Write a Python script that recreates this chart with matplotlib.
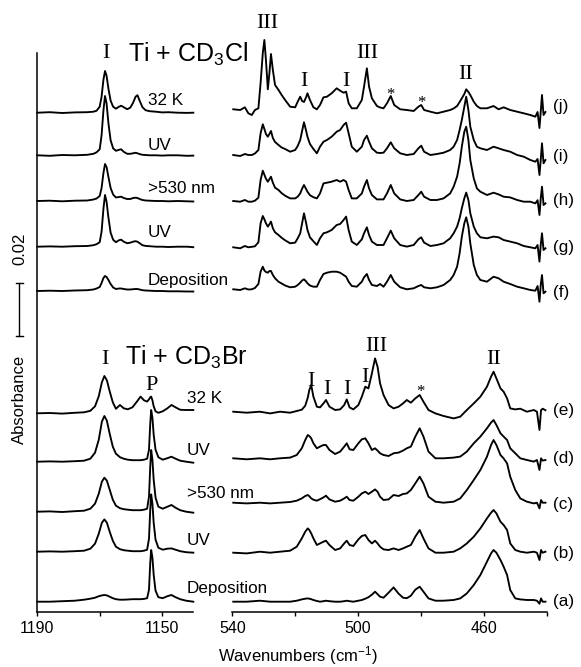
import matplotlib
matplotlib.use('Agg')
import matplotlib.pyplot as plt
import matplotlib.transforms as mtransforms

plt.rcParams['font.family'] = ['Liberation Sans', 'DejaVu Sans']
plt.rcParams['mathtext.fontset'] = 'custom'
plt.rcParams['mathtext.rm'] = 'Liberation Sans'
plt.rcParams['mathtext.it'] = 'Liberation Sans:italic'
plt.rcParams['mathtext.bf'] = 'Liberation Sans:bold'

# ---------------- DATA ----------------
# Absorbance values are in display units where 53.3 units = 0.02 absorbance
SCALE_BAR_ABS = 0.02
UNITS_PER_SCALE_BAR = 53.3

left_ticks = [1190, 1150]
left_minor = [1170]
right_ticks = [540, 500, 460]
right_minor = [520, 480, 440]

# Left panel, Ti + CD3Cl (1190-1140 cm-1)
lt_wn = [1190, 1186, 1182, 1178, 1174, 1172, 1171, 1170, 1169.4, 1168.8, 1168.3, 1167.8,
         1167.2, 1166.5, 1165.7, 1164.8, 1163.8, 1163.1, 1162.3, 1161.2, 1160.2, 1159.3,
         1158.5, 1157.9, 1157.2, 1156.3, 1155.3, 1154, 1152, 1150, 1148, 1145, 1142, 1140]
lt_32K = [0, 0.5, -0.3, 0.3, 0.5, 1, 2, 6, 16, 33, 41.7, 37, 24, 12, 6, 4, 6, 7, 5.5, 3.5,
          5, 10, 16, 17.5, 12, 5.5, 2.5, 1.5, 1, 0.3, 0.5, 0, -0.2, 0]
lt_UV2 = [0, -0.5, 0.3, 0, 0.5, 1.5, 3, 6, 20, 45, 59.3, 52, 32, 15, 7, 4.5, 5.5, 6, 3.5, 1.5,
          1.5, 2, 2.5, 2, 1.2, 0.5, 0.3, 0, 0, -0.3, 0, 0, -0.5, -0.3]
lt_530 = [0, 0.3, -0.3, 0.3, 0.5, 1.5, 2.5, 5, 13, 28, 37, 34, 24, 13, 6.5, 3.5, 4, 4.3, 3, 2,
          2, 3, 3.3, 3, 2, 1, 0.5, 0.3, 0, 0, -0.3, 0, -0.3, -0.5]
lt_UV1 = [0, 0.3, 0, 0.5, 0.7, 1.5, 2.5, 4.5, 15, 38, 51.7, 45, 29, 14, 7, 4.5, 6.5, 7, 5, 3.5,
          4, 5, 5.5, 5, 3.5, 1.5, 0.8, 0.5, 0, 0, -0.3, 0, 0, -0.5]
lt_dep = [0, 0.3, 0, 0.5, 0.8, 1.5, 2.5, 4, 8, 13, 15, 14, 11, 7, 3.5, 2, 2.5, 2.5, 2, 1.5,
          1.5, 1.8, 2, 2, 1.5, 0.8, 0.5, 0.3, 0, 0, -0.3, -0.3, -0.5, -0.5]

# Left panel, Ti + CD3Br
lb_wn = [1190, 1186, 1182, 1178, 1175, 1173, 1171.5, 1170.3, 1169.3, 1168.5, 1167.7, 1166.8,
         1165.8, 1164.8, 1163.5, 1162.3, 1161, 1159.5, 1158, 1156.9, 1155.8, 1154.8, 1154.2,
         1153.8, 1153.5, 1153.1, 1152.7, 1152.1, 1151.2, 1149.8, 1148.3, 1147, 1145.7, 1144.2,
         1142.3, 1140]
lb_32K = [0, 0.3, -0.3, 0.5, 1, 2.5, 7, 17, 31, 37.3, 33, 22, 11, 4.5, 8.3, 5, 4, 6, 12, 16.7,
          13, 11.7, 14, 16, 16.7, 13, 7, 2, 0.5, 2, 5, 8.3, 6, 3.5, 3.3, 3.3]
lb_UV2 = [0, 0.3, 0, 0.5, 1, 3, 9, 22, 40, 45.7, 41, 28, 15, 8, 4.5, 3, 2, 1.5, 1.5, 1.5, 2, 3,
          12, 38, 51.7, 44, 27, 12, 4.5, 2, 3.5, 5, 3, 1, 0, -1]
lb_530 = [0, 0.3, -0.3, 0.5, 1, 3, 8, 18, 30, 34, 31, 22, 12, 6, 3.5, 2.5, 2, 1.5, 1.5, 1.5, 2,
          3, 15, 45, 61.7, 52, 32, 14, 5, 3, 5, 6.7, 4, 1.5, 0, -1]
lb_UV1 = [0, 0.3, 0, 0.5, 1, 3, 8, 18, 29, 32.3, 29, 20, 11, 5, 2.5, 1.5, 1, 0.5, 0.5, 0.5, 1,
          2, 13, 42, 57.3, 48, 29, 12, 4, 2, 3, 3.3, 2, 0.5, -0.5, -1]
lb_dep = [-1, -1, -0.5, 0, 1, 2, 3, 4.5, 5.3, 5.7, 5.3, 4, 2.5, 1.5, 1, 1, 1.2, 1.5, 1.5, 1.5,
          1.8, 2.5, 11, 38, 50.7, 43, 26, 10, 3.5, 2.5, 4.5, 5.7, 3.5, 1.5, 0, -1]

# Right panel, Ti + CD3Cl (540-440 cm-1)
rt_wn = [539.7, 537.5, 536.0, 534.9, 533.8, 532.8, 531.7, 531.0, 530.3, 529.8,
         529.3, 528.7, 528.2, 527.7, 527.1, 526.4, 525.3, 524.3, 523.2, 521.6,
         520.0, 519.2, 518.4, 517.8, 517.2, 516.5, 516.1, 515.3, 514.2, 513.1,
         512.1, 511.0, 509.9, 508.4, 506.8, 505.7, 504.6, 503.8, 503.0, 502.0,
         500.4, 498.8, 498.1, 497.2, 496.5, 495.6, 494.0, 493.0, 491.9, 490.8,
         489.6, 488.5, 486.6, 484.5, 482.3, 480.8, 479.9, 479.0, 477.0, 474.9,
         472.8, 470.7, 469.6, 468.5, 467.7, 467.0, 466.2, 465.6, 464.9, 464.3,
         463.2, 462.2, 461.1, 459.0, 456.9, 455.3, 453.7, 451.6, 449.4, 447.3,
         445.2, 443.6, 442.9, 442.3, 441.9, 441.5, 441.0, 440.4]
rt_j = [0.7, 0, 2.7, -3.3, -5, 0, 1.7, 27, 57, 70,
        50, 20.7, 36.7, 56, 40, 25, 20, 15, 10, 3.3,
        2.7, 8.3, 13.3, 9, 8, 13, 16.7, 10, 2.7, 0.7,
        5, 12.7, 13.3, 16.7, 21.7, 19.3, 17.3, 18.3, 6.7, 1.7,
        1.7, 10, 23.3, 41.7, 23.3, 11.7, 4, 2.5, 1.7, 6.7,
        14, 5, 0.7, 0, -1, 3.3, 5, 0, -1.7, -3.3,
        -1.7, 0, 1.5, 4, 8, 11.7, 16, 20.7, 18, 15,
        8.3, 4, 1.7, 1.7, 4, 0.7, 2.7, 0, -1.7, -3.3,
        -5, -6.7, -2, -18, -2, 15, -5, -2]
rt_i = [0, -1, 1, 0, 0, 1.5, 5, 21.7, 30.7, 26,
        21, 18.3, 21, 24, 17, 13, 10, 7.5, 6, 3.3,
        5, 9, 15, 24, 32.7, 24, 18.3, 11, 6, 1.7,
        8.3, 13.3, 15, 18.3, 23.3, 25, 30, 32.3, 21.7, 8.3,
        3.3, 8.3, 15, 19.3, 13.3, 6.7, 2.3, 2, 2.3, 6.7,
        12.7, 6.7, 1.7, 0, 1, 6.7, 9.3, 3.3, 0, 1,
        2.3, 5, 8.3, 15, 25, 35, 48.3, 58.3, 45, 28.3,
        15, 8.3, 6.7, 5, 8.3, 6.7, 5, 3.3, 0, -1.7,
        -5, -6.7, -4, -20, -5, 11.7, -8.3, -5]
rt_h = [0.7, 0, 1.7, 0, 0, 1, 4, 21.7, 31, 27,
        23, 20, 22.5, 25, 19, 14, 11.7, 8.5, 6, 3.3,
        3.3, 5, 8.3, 13, 16.7, 12.5, 10, 6.5, 4.5, 3.3,
        8.3, 18.3, 19, 20, 21.7, 20, 21.7, 20, 11.7, 3.3,
        3.3, 8.3, 15, 21.7, 13.3, 6.7, 2.3, 2.3, 2.3, 8.3,
        16.7, 8.3, 2.3, 0.7, 1.7, 6.7, 10, 5, 1.7, 1.7,
        3.3, 8.3, 15, 25, 38.3, 55, 70, 75, 61.7, 41.7,
        23.3, 13.3, 10, 6.7, 9, 7.3, 5, 4.3, 1.7, 0,
        0, -1.7, 1.5, -13.3, 3, 15, -3.3, -1.7]
rt_g = [0, -1, 1.3, 0, 0.5, 1, 5, 24, 31.3, 28,
        24, 20.7, 23, 25.7, 19, 15, 12.3, 9.5, 7, 4,
        4.7, 9, 14, 24, 34, 24, 17.3, 10, 6, 2.3,
        9, 14, 15, 17.3, 22.3, 23.3, 27.3, 30.7, 17.3, 5.7,
        2.3, 8, 14, 20, 12.3, 5.7, 2.3, 2.3, 2.3, 9,
        16.7, 9, 2.3, 0.7, 2.3, 8, 10, 4.7, 1.3, 2.3,
        4, 9, 14, 20.7, 29, 39, 49, 54.7, 47.3, 34,
        20.7, 14, 10, 9, 10.7, 10, 7.3, 5.7, 4, 1.3,
        0, -1, 2.3, -14.3, 2.3, 14, -2.7, -1]
rt_f = [0.7, 0, 1.7, 0.5, 0.7, 2, 6, 18.3, 23.3, 19.5,
        18, 17.3, 19, 19, 15, 11.7, 8.3, 6.5, 4.5, 2.7,
        3.3, 5, 7.3, 9.5, 10.7, 8.5, 6.7, 4.5, 3.3, 3.3,
        10, 16, 17.3, 18.3, 18.3, 17.3, 15, 13.3, 8.3, 4,
        3.3, 8.3, 12.7, 16, 10, 5, 4, 6, 3.3, 8.3,
        15, 8.3, 2.7, 0.7, 1.7, 4, 5, 2.7, 1.7, 2.7,
        5, 10, 15, 23.3, 36.7, 53.3, 66.7, 72.7, 63.3, 46.7,
        25, 15, 10, 8.3, 13.3, 11.7, 8.3, 6, 3.3, 1.7,
        0, -0.7, 4, -11.7, 5, 15, -3.3, -1.7]

# Right panel, Ti + CD3Br
rb_wn = [539.7, 535.4, 531.2, 528.0, 524.8, 521.6, 519.5, 517.9, 516.8, 516.0,
         515.5, 514.9, 514.2, 513.1, 512.1, 511.0, 510.2, 509.1, 507.3, 505.7,
         504.4, 503.6, 502.7, 501.5, 499.9, 498.8, 497.7, 496.7, 495.6, 494.6,
         493.8, 493.0, 491.9, 490.3, 488.7, 487.1, 485.7, 484.5, 483.2, 481.8,
         480.4, 479.2, 477.6, 475.4, 472.8, 469.6, 467.5, 465.4, 463.2, 461.1,
         459.0, 457.7, 456.9, 456.0, 454.7, 453.7, 452.6, 451.6, 450.0, 448.4,
         446.3, 444.1, 443.1, 442.3, 441.8, 441.3, 440.4]
rb_e = [0, -1, 0, -1.7, 0, -1, 0.7, 2, 6, 14,
        21.7, 26.7, 15, 5, 4.3, 8.3, 11.7, 5, 1.7, 2.3,
        6.7, 12.3, 4.3, 2.3, 6.7, 15, 25, 23.3, 38.3, 53.3,
        45, 28.3, 16.7, 6.7, 3.3, 5, 8.3, 11.7, 9, 13.3,
        16.7, 10, 1.7, -1.7, -4.3, -6.7, -5, 1.7, 8.3, 15,
        25, 35, 40, 33.3, 23.3, 20, 13.3, 3.3, 2.3, 3,
        0, 1.7, 0, -18.3, 1.5, 3, 1.5]
rb_d = [0, -1, 0, -1, 0, 0.7, 3.3, 10, 18.3, 23.3,
        22.3, 20, 15, 10, 11.7, 13.3, 13.3, 8.3, 4.3, 6.7,
        11.7, 15, 9, 8.3, 15, 19, 20, 15, 8.3, 10,
        7.7, 5, 3.3, 2.3, 5, 5.7, 7.7, 10, 11.7, 21.7,
        30, 21.7, 6.7, 0, 0, 0.7, 1.7, 6.7, 15, 21.7,
        30, 35.7, 38.3, 33.3, 25, 21.7, 18.3, 10, 5, 0,
        -1.7, -3.3, -1.7, -11.7, 0, -2.3, -1.7]
rb_c = [0, -0.7, 0, -0.7, 0, 0.7, 2, 4.3, 6.7, 7.7,
        6.5, 4.3, 3, 2, 3.5, 5.3, 7, 3.3, 1, 2,
        4.3, 6, 2.7, 2, 6, 9.3, 11, 8.7, 11, 13.3,
        11, 6, 2.7, 3.3, 7.7, 6.7, 8.7, 9.3, 12.7, 19.3,
        26, 19.3, 6, 1, 0, 1, 4.3, 12.7, 22.7, 32.7,
        46, 57.7, 62.7, 57.7, 47.7, 44.3, 39.3, 26, 12.7, 4.3,
        1, -0.7, 0, -5.7, 2.7, 0, 0]
rb_b = [0, -0.7, 1, 0, 1, 2, 6, 14.3, 21, 24.3,
        22.7, 19.3, 14.3, 7.7, 9.3, 11, 12, 7.7, 2.7, 4.3,
        9.3, 12, 7.7, 6.7, 13.3, 16.7, 17.7, 12.7, 9.3, 12,
        9.3, 6, 3.3, 2.7, 4.3, 2.7, 4.3, 6, 7.7, 16,
        22.7, 14.3, 4.3, 0, 0, 1, 4.3, 9.3, 16, 24.3,
        34.3, 40, 42.7, 39.3, 31, 27.7, 22.7, 9.3, 2.7, 1,
        0, 1, 0, -7.3, 2.7, 0, 1]
rb_a = [0, 0, 1, 0, 0, 0, 1, 2.3, 3, 3.3,
        3, 2.5, 1.7, 0.7, 0, 0.5, 1, 0.5, 0, 0,
        0.5, 1, 0.5, 0, 1, 1.7, 3, 4.5, 7, 10,
        7.5, 5, 4, 9, 14.3, 8, 4, 3.5, 6, 12,
        15, 10, 3.3, 1, 1, 1.7, 3.3, 8.3, 16.7, 26.7,
        40, 48.3, 51.7, 49, 41.7, 35, 26.7, 11.7, 3.3, 2.3,
        1.7, 1.7, 1, -2, 3.3, 0, 0]

# ---------------- LAYOUT ----------------
W, H = 581, 667
fig = plt.figure(figsize=(W / 100, H / 100), dpi=100)


def fx(x):
    return x / W


def fy(y):
    return 1 - y / H


TOP_PX, BOT_PX = 53.0, 611.7
ax_h = (BOT_PX - TOP_PX) / H
axL = fig.add_axes([fx(37.3), fy(BOT_PX), (193.3 - 37.3) / W, ax_h])
axR = fig.add_axes([fx(232.3), fy(BOT_PX), (546.7 - 232.3) / W, ax_h])

YMAX = BOT_PX - TOP_PX
LW = 1.35

left_traces = [
    (lt_wn, lt_32K, 499.0), (lt_wn, lt_UV2, 456.4), (lt_wn, lt_530, 410.7),
    (lt_wn, lt_UV1, 365.0), (lt_wn, lt_dep, 320.7),
    (lb_wn, lb_32K, 198.4), (lb_wn, lb_UV2, 150.0), (lb_wn, lb_530, 100.0),
    (lb_wn, lb_UV1, 60.0), (lb_wn, lb_dep, 11.0),
]
right_traces = [
    (rt_wn, rt_j, 501.7), (rt_wn, rt_i, 456.7), (rt_wn, rt_h, 410.0),
    (rt_wn, rt_g, 364.4), (rt_wn, rt_f, 321.7),
    (rb_wn, rb_e, 200.0), (rb_wn, rb_d, 153.4), (rb_wn, rb_c, 109.0),
    (rb_wn, rb_b, 59.0), (rb_wn, rb_a, 10.0),
]

for ax, traces in ((axL, left_traces), (axR, right_traces)):
    for wn, vals, off in traces:
        ax.plot(wn, [off + v for v in vals], color='black', lw=LW, clip_on=False,
                solid_joinstyle='round')
    ax.set_ylim(0, YMAX)
    ax.spines['top'].set_visible(False)
    ax.spines['right'].set_visible(False)
    ax.spines['bottom'].set_linewidth(1.1)
    ax.spines['left'].set_linewidth(1.1)
    ax.set_yticks([])
    ax.tick_params(axis='x', which='both', direction='out', length=3.0, width=1.0,
                   labelsize=11.5, pad=3.5)
    ax.patch.set_visible(False)

axL.set_xlim(1190, 1140)
axL.set_xticks(left_ticks)
axL.set_xticks(left_minor, minor=True)
axR.set_xlim(540, 440)
axR.set_xticks(right_ticks)
axR.set_xticks(right_minor, minor=True)
axR.spines['left'].set_visible(False)

# scale bar
tr = mtransforms.blended_transform_factory(fig.transFigure, axL.transData)
y0 = BOT_PX - 336.0
y1 = y0 + UNITS_PER_SCALE_BAR
sb_kw = dict(color='black', lw=1.0, transform=tr, clip_on=False)
fig.add_artist(plt.Line2D([fx(19.3), fx(19.3)], [y0, y1], **sb_kw))
fig.add_artist(plt.Line2D([fx(15.5), fx(23.2)], [y0, y0], **sb_kw))
fig.add_artist(plt.Line2D([fx(15.5), fx(23.2)], [y1, y1], **sb_kw))
fig.text(fx(20), fy(249), f'{SCALE_BAR_ABS:.2f}', rotation=90, ha='center', va='center',
         fontsize=12)
fig.text(fx(19.5), fy(399), 'Absorbance', rotation=90, ha='center', va='center', fontsize=12)

fig.text(fx(298), fy(661.5), r'Wavenumbers (cm$^{\mathregular{-1}}$)', ha='center',
         va='baseline', fontsize=12)

# titles
fig.text(fx(128.3), fy(61.7), r'Ti + CD$_{\mathregular{3}}$Cl', ha='left', va='baseline',
         fontsize=18)
fig.text(fx(125), fy(365), r'Ti + CD$_{\mathregular{3}}$Br', ha='left', va='baseline',
         fontsize=18)

# condition labels
cond = ['32 K', 'UV', '>530 nm', 'UV', 'Deposition']
for t, yb in zip(cond, [105, 150, 193.3, 236.7, 285]):
    fig.text(fx(148), fy(yb), t, ha='left', va='baseline', fontsize=12.3)
for t, yb in zip(cond, [403.3, 455, 498.3, 545, 593.3]):
    fig.text(fx(186.7), fy(yb), t, ha='left', va='baseline', fontsize=12.3)

# trace letters
for t, yc in zip(['(j)', '(i)', '(h)', '(g)', '(f)', '(e)', '(d)', '(c)', '(b)', '(a)'],
                 [106.7, 156.7, 200, 248, 293, 410, 458.3, 505, 553.3, 601.7]):
    fig.text(fx(553), fy(yc), t, ha='left', va='center', fontsize=12.3)

# band assignment labels
serif = 'Liberation Serif'
bands = [('I', 106, 57.5), ('III', 267.7, 27.5), ('I', 304, 85.5), ('I', 346, 85.5),
         ('III', 367.3, 57.5), ('II', 466, 79),
         ('I', 105, 364), ('P', 151.7, 390.5), ('I', 310.7, 386), ('I', 326.7, 394),
         ('I', 347.3, 394), ('I', 365, 382.5), ('III', 376, 351), ('II', 494, 364)]
for t, x, yb in bands:
    fig.text(fx(x), fy(yb), t, ha='center', va='baseline', fontsize=16, family=serif)
for x, yb in [(390.7, 99), (421.7, 107.3), (420, 395.7)]:
    fig.text(fx(x), fy(yb), '*', ha='center', va='baseline', fontsize=12, family=serif)

fig.savefig('out.png', dpi=100)
